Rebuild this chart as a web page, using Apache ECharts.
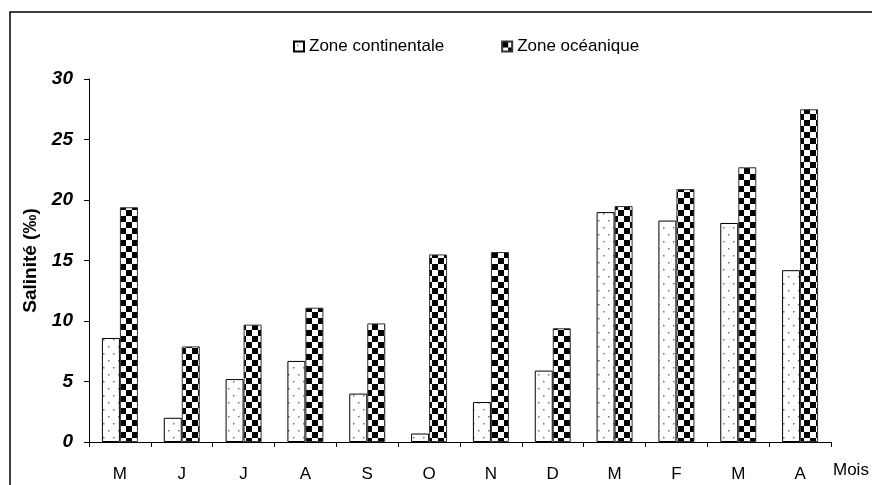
<!DOCTYPE html>
<html>
<head>
<meta charset="utf-8">
<script src="https://cdn.jsdelivr.net/npm/echarts@6/dist/echarts.min.js"></script>
<style>
  html, body { margin: 0; padding: 0; background: #fff; }
  #chart { width: 872px; height: 485px; }
</style>
</head>
<body>
<div id="chart"></div>
<script>
// mois (mai -> avril)
var months = ["M", "J", "J", "A", "S", "O", "N", "D", "M", "F", "M", "A"];
var continentale = [8.6, 2.0, 5.2, 6.7, 4.0, 0.7, 3.3, 5.9, 19.0, 18.3, 18.1, 14.2];
var oceanique = [19.4, 7.9, 9.7, 11.1, 9.8, 15.5, 15.7, 9.4, 19.5, 20.9, 22.7, 27.5];
var yTicks = [0, 5, 10, 15, 20, 25, 30];

// motif pointille (zone continentale)
function dotPattern() {
  var c = document.createElement("canvas");
  c.width = 10; c.height = 14;
  var ctx = c.getContext("2d");
  ctx.fillStyle = "#fff";
  ctx.fillRect(0, 0, 10, 14);
  ctx.fillStyle = "#777";
  ctx.fillRect(3, 3, 1.5, 1.5);
  ctx.fillRect(8, 10, 1.5, 1.5);
  return c;
}

// damier (zone oceanique)
function checkerPattern() {
  var c = document.createElement("canvas");
  c.width = 12; c.height = 12;
  var ctx = c.getContext("2d");
  ctx.fillStyle = "#fff";
  ctx.fillRect(0, 0, 12, 12);
  ctx.fillStyle = "#000";
  ctx.fillRect(0, 0, 6, 6);
  ctx.fillRect(6, 6, 6, 6);
  return c;
}

var chart = echarts.init(document.getElementById("chart"));

var option = {
  animation: false,
  backgroundColor: "#fff",
  textStyle: { fontFamily: "Liberation Sans, Arial, sans-serif" },
  graphic: [{
    type: "rect",
    shape: { x: 10, y: 12, width: 880, height: 500 },
    style: { fill: "none", stroke: "#000", lineWidth: 1.5 },
    silent: true
  }],
  legend: {
    top: 33,
    left: 288,
    itemWidth: 10,
    itemHeight: 10,
    itemGap: 57,
    textStyle: { fontSize: 17, color: "#000" },
    data: [
      { name: "Zone continentale", icon: "rect" },
      { name: "Zone océanique", icon: "rect" }
    ]
  },
  grid: { left: 89, right: 41, top: 79, bottom: 43 },
  xAxis: {
    type: "category",
    data: months,
    name: "Mois",
    nameLocation: "end",
    nameGap: 2,
    nameTextStyle: { fontSize: 17, color: "#000", verticalAlign: "top", padding: [20, 0, 0, 0] },
    axisLine: { lineStyle: { color: "#000", width: 1 } },
    axisTick: { show: true, length: 5, lineStyle: { color: "#000" } },
    axisLabel: { fontSize: 17, color: "#000", margin: 24 }
  },
  yAxis: {
    type: "value",
    min: yTicks[0],
    max: yTicks[yTicks.length - 1],
    interval: 5,
    name: "Salinité (‰)",
    nameLocation: "middle",
    nameGap: 49,
    nameTextStyle: { fontSize: 19, fontWeight: "bold", color: "#000" },
    splitLine: { show: false },
    axisLine: { show: true, lineStyle: { color: "#000", width: 1 } },
    axisTick: { show: true, length: 5, lineStyle: { color: "#000" } },
    axisLabel: { fontSize: 19, fontWeight: "bold", fontStyle: "italic", color: "#000", margin: 16 }
  },
  series: [
    {
      name: "Zone continentale",
      type: "bar",
      data: continentale,
      barWidth: 18,
      barGap: "0%",
      itemStyle: {
        color: { image: dotPattern(), repeat: "repeat" },
        borderColor: "#000",
        borderWidth: 1
      }
    },
    {
      name: "Zone océanique",
      type: "bar",
      data: oceanique,
      barWidth: 18,
      barGap: "0%",
      itemStyle: {
        color: { image: checkerPattern(), repeat: "repeat" },
        borderColor: "#333",
        borderWidth: 1
      }
    }
  ]
};

chart.setOption(option);
</script>
</body>
</html>
